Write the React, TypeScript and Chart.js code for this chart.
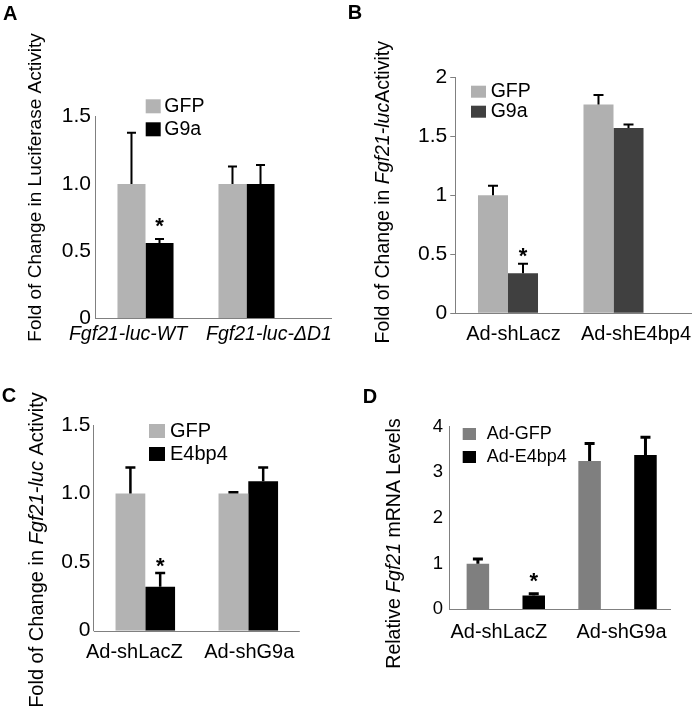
import React, { useEffect, useRef } from 'react';
import { Chart, registerables } from 'chart.js';

Chart.register(...registerables);

const FONT = '"Liberation Sans", Arial, Helvetica, sans-serif';
const AXIS = '#808080';

// ---------- Panel A data ----------
const aCategories = ['Fgf21-luc-WT', 'Fgf21-luc-ΔD1'];
const aYTicks = ['0', '0.5', '1.0', '1.5'];
const aGfp = [1.0, 1.0];
const aGfpErr = [0.38, 0.13];
const aGfpStar = [false, false];
const aG9a = [0.56, 1.0];
const aG9aErr = [0.03, 0.14];
const aG9aStar = [true, false];

// ---------- Panel B data ----------
const bCategories = ['Ad-shLacz', 'Ad-shE4bp4'];
const bYTicks = ['0', '0.5', '1', '1.5', '2'];
const bGfp = [1.0, 1.77];
const bGfpErr = [0.08, 0.08];
const bGfpStar = [false, false];
const bG9a = [0.34, 1.57];
const bG9aErr = [0.08, 0.03];
const bG9aStar = [true, false];

// ---------- Panel C data ----------
const cCategories = ['Ad-shLacZ', 'Ad-shG9a'];
const cYTicks = ['0', '0.5', '1.0', '1.5'];
const cGfp = [1.0, 1.0];
const cGfpErr = [0.19, 0.01];
const cGfpStar = [false, false];
const cE4bp4 = [0.32, 1.09];
const cE4bp4Err = [0.1, 0.1];
const cE4bp4Star = [true, false];

// ---------- Panel D data ----------
const dCategories = ['Ad-shLacZ', 'Ad-shG9a'];
const dYTicks = ['0', '1', '2', '3', '4'];
const dGfp = [1.0, 3.25];
const dGfpErr = [0.1, 0.38];
const dGfpStar = [false, false];
const dE4bp4 = [0.3, 3.38];
const dE4bp4Err = [0.04, 0.39];
const dE4bp4Star = [true, false];

type Seg = { text: string; italic?: boolean };
type Series = { label: string; color: string; values: number[]; errors: number[]; stars: boolean[] };
type PanelCfg = {
  letter: string;
  letterPos: [number, number];
  canvas: { left: number; top: number; width: number; height: number };
  area: { left: number; right: number; top: number; bottom: number };
  axisExtend: number;
  categories: string[];
  series: Series[];
  yMax: number;
  yStep: number;
  yLabels: string[];
  tickFont: number;
  tickPad: number;
  tickLen: number;
  catPct: number;
  barPct: number;
  xFont: number;
  xItalic: boolean;
  xBaseline: number;
  labelNudge: number[];
  title: Seg[];
  titleFont: number;
  titlePos: [number, number];
  legend: { boxX: number; boxW: number; boxH: number; y0: number; rowH: number; textX: number; font: number };
  err: { width: number; cap: number };
  starGap: number;
};

const panels: PanelCfg[] = [
  {
    letter: 'A',
    letterPos: [3, 20],
    canvas: { left: 0, top: 0, width: 346, height: 360 },
    area: { left: 95, right: 297, top: 116.7, bottom: 318.3 },
    axisExtend: 35,
    categories: aCategories,
    series: [
      { label: 'GFP', color: '#b3b3b3', values: aGfp, errors: aGfpErr, stars: aGfpStar },
      { label: 'G9a', color: '#000000', values: aG9a, errors: aG9aErr, stars: aG9aStar },
    ],
    yMax: 1.5,
    yStep: 0.5,
    yLabels: aYTicks,
    tickFont: 21,
    tickPad: 4,
    tickLen: 0,
    catPct: 0.555,
    barPct: 1,
    xFont: 19.5,
    xItalic: true,
    xBaseline: 340,
    labelNudge: [-17.5, 22.5],
    title: [{ text: 'Fold of Change in Luciferase Activity' }],
    titleFont: 19,
    titlePos: [40.8, 187.5],
    legend: { boxX: 145.7, boxW: 15, boxH: 14, y0: 106.3, rowH: 23, textX: 164.3, font: 19.5 },
    err: { width: 2, cap: 9 },
    starGap: 17,
  },
  {
    letter: 'B',
    letterPos: [347.7, 18.5],
    canvas: { left: 346, top: 0, width: 347, height: 360 },
    area: { left: 455.25, right: 666.25, top: 77.3, bottom: 313.3 },
    axisExtend: 25.75,
    categories: bCategories,
    series: [
      { label: 'GFP', color: '#b0b0b0', values: bGfp, errors: bGfpErr, stars: bGfpStar },
      { label: 'G9a', color: '#404040', values: bG9a, errors: bG9aErr, stars: bG9aStar },
    ],
    yMax: 2,
    yStep: 0.5,
    yLabels: bYTicks,
    tickFont: 21,
    tickPad: 3,
    tickLen: 5,
    catPct: 0.569,
    barPct: 1,
    xFont: 20,
    xItalic: false,
    xBaseline: 340,
    labelNudge: [5.5, 22.5],
    title: [{ text: 'Fold of Change in ' }, { text: 'Fgf21-luc', italic: true }, { text: 'Activity' }],
    titleFont: 19.5,
    titlePos: [388.9, 192.3],
    legend: { boxX: 471, boxW: 15, boxH: 12, y0: 91.7, rowH: 20, textX: 490.7, font: 19.5 },
    err: { width: 2, cap: 10 },
    starGap: 11.5,
  },
  {
    letter: 'C',
    letterPos: [1.7, 401.7],
    canvas: { left: 0, top: 360, width: 346, height: 354 },
    area: { left: 93.8, right: 299.8, top: 425, bottom: 630.7 },
    axisExtend: 0,
    categories: cCategories,
    series: [
      { label: 'GFP', color: '#b3b3b3', values: cGfp, errors: cGfpErr, stars: cGfpStar },
      { label: 'E4bp4', color: '#000000', values: cE4bp4, errors: cE4bp4Err, stars: cE4bp4Star },
    ],
    yMax: 1.5,
    yStep: 0.5,
    yLabels: cYTicks,
    tickFont: 21,
    tickPad: 3.3,
    tickLen: 0,
    catPct: 0.578,
    barPct: 1,
    xFont: 20,
    xItalic: false,
    xBaseline: 658.3,
    labelNudge: [-11, 1],
    title: [{ text: 'Fold of Change in ' }, { text: 'Fgf21-luc', italic: true }, { text: ' Activity' }],
    titleFont: 20,
    titlePos: [42.8, 550],
    legend: { boxX: 149, boxW: 16, boxH: 14, y0: 431, rowH: 23, textX: 170, font: 20 },
    err: { width: 2.5, cap: 10 },
    starGap: 11,
  },
  {
    letter: 'D',
    letterPos: [362.7, 403.3],
    canvas: { left: 346, top: 360, width: 347, height: 354 },
    area: { left: 449.95, right: 673.4, top: 426.7, bottom: 609.3 },
    axisExtend: -2.4,
    categories: dCategories,
    series: [
      { label: 'Ad-GFP', color: '#7f7f7f', values: dGfp, errors: dGfpErr, stars: dGfpStar },
      { label: 'Ad-E4bp4', color: '#000000', values: dE4bp4, errors: dE4bp4Err, stars: dE4bp4Star },
    ],
    yMax: 4,
    yStep: 1,
    yLabels: dYTicks,
    tickFont: 18.5,
    tickPad: 7,
    tickLen: 0,
    catPct: 1,
    barPct: 0.403,
    xFont: 20,
    xItalic: false,
    xBaseline: 638.3,
    labelNudge: [-7, 4],
    title: [{ text: 'Relative ' }, { text: 'Fgf21', italic: true }, { text: ' mRNA Levels' }],
    titleFont: 19.5,
    titlePos: [399.8, 543.5],
    legend: { boxX: 462.7, boxW: 13.3, boxH: 12, y0: 434, rowH: 23, textX: 486.7, font: 18 },
    err: { width: 3, cap: 10 },
    starGap: 16.5,
  },
];

function makeDecor(cfg: PanelCfg) {
  const ox = cfg.canvas.left;
  const oy = cfg.canvas.top;
  return {
    id: 'decor' + cfg.letter,
    afterDatasetsDraw(chart: any) {
      const ctx = chart.ctx as CanvasRenderingContext2D;
      const y = chart.scales.y;
      cfg.series.forEach((s, di) => {
        const meta = chart.getDatasetMeta(di);
        meta.data.forEach((bar: any, i: number) => {
          const v = s.values[i];
          const e = s.errors[i];
          const yTop = y.getPixelForValue(v + e);
          const yBar = y.getPixelForValue(v);
          ctx.save();
          ctx.strokeStyle = '#000';
          ctx.lineWidth = cfg.err.width;
          ctx.beginPath();
          ctx.moveTo(bar.x, yBar);
          ctx.lineTo(bar.x, yTop);
          ctx.moveTo(bar.x - cfg.err.cap / 2, yTop);
          ctx.lineTo(bar.x + cfg.err.cap / 2, yTop);
          ctx.stroke();
          if (s.stars[i]) {
            ctx.font = `bold 22px ${FONT}`;
            ctx.fillStyle = '#000';
            ctx.textAlign = 'center';
            ctx.textBaseline = 'alphabetic';
            const m = ctx.measureText('*');
            const cy = yTop - cfg.starGap;
            const base = cy + (m.actualBoundingBoxAscent - m.actualBoundingBoxDescent) / 2;
            ctx.fillText('*', bar.x, base);
          }
          ctx.restore();
        });
      });
    },
    afterDraw(chart: any) {
      const ctx = chart.ctx as CanvasRenderingContext2D;
      const area = chart.chartArea;
      const xs = chart.scales.x;
      ctx.save();
      // x axis line
      ctx.strokeStyle = AXIS;
      ctx.lineWidth = 1;
      ctx.beginPath();
      ctx.moveTo(area.left, Math.round(area.bottom) + 0.5);
      ctx.lineTo(area.right + cfg.axisExtend, Math.round(area.bottom) + 0.5);
      ctx.stroke();

      // x labels
      ctx.fillStyle = '#000';
      ctx.font = `${cfg.xItalic ? 'italic ' : ''}${cfg.xFont}px ${FONT}`;
      ctx.textAlign = 'center';
      ctx.textBaseline = 'alphabetic';
      cfg.categories.forEach((c, i) => {
        const px = xs.getPixelForTick(i) + cfg.labelNudge[i];
        ctx.fillText(c, px, cfg.xBaseline - oy);
      });

      // y title (rotated, mixed styles)
      ctx.save();
      ctx.translate(cfg.titlePos[0] - ox, cfg.titlePos[1] - oy);
      ctx.rotate(-Math.PI / 2);
      ctx.textAlign = 'left';
      ctx.textBaseline = 'alphabetic';
      const fontFor = (s: Seg) => `${s.italic ? 'italic ' : ''}${cfg.titleFont}px ${FONT}`;
      let total = 0;
      const widths = cfg.title.map((s) => {
        ctx.font = fontFor(s);
        const w = ctx.measureText(s.text).width;
        total += w;
        return w;
      });
      let tx = -total / 2;
      cfg.title.forEach((s, i) => {
        ctx.font = fontFor(s);
        ctx.fillText(s.text, tx, 0);
        tx += widths[i];
      });
      ctx.restore();

      // legend
      const L = cfg.legend;
      cfg.series.forEach((s, k) => {
        const cy = L.y0 + k * L.rowH - oy;
        ctx.fillStyle = s.color;
        ctx.fillRect(L.boxX - ox, cy - L.boxH / 2, L.boxW, L.boxH);
        ctx.fillStyle = '#000';
        ctx.font = `${L.font}px ${FONT}`;
        ctx.textAlign = 'left';
        ctx.textBaseline = 'middle';
        ctx.fillText(s.label, L.textX - ox, cy);
      });

      // panel letter
      ctx.font = `bold 20px ${FONT}`;
      ctx.textAlign = 'left';
      ctx.textBaseline = 'alphabetic';
      ctx.fillStyle = '#000';
      ctx.fillText(cfg.letter, cfg.letterPos[0] - ox, cfg.letterPos[1] - oy);
      ctx.restore();
    },
  };
}

function Panel({ cfg }: { cfg: PanelCfg }) {
  const ref = useRef<HTMLCanvasElement>(null);
  useEffect(() => {
    const c = cfg.canvas;
    const a = cfg.area;
    const chart = new Chart(ref.current as HTMLCanvasElement, {
      type: 'bar',
      data: {
        labels: cfg.categories,
        datasets: cfg.series.map((s) => ({
          label: s.label,
          data: s.values,
          backgroundColor: s.color,
          borderWidth: 0,
          categoryPercentage: cfg.catPct,
          barPercentage: cfg.barPct,
        })),
      },
      options: {
        responsive: false,
        animation: false,
        devicePixelRatio: 1,
        layout: {
          padding: { left: 0, top: a.top - c.top, right: c.left + c.width - a.right, bottom: 0 },
        },
        plugins: { legend: { display: false }, tooltip: { enabled: false } },
        scales: {
          x: {
            type: 'category',
            offset: true,
            grid: { display: false },
            border: { display: false },
            ticks: { display: false },
            afterFit: (s: any) => {
              s.height = c.top + c.height - a.bottom;
            },
          },
          y: {
            min: 0,
            max: cfg.yMax,
            ticks: {
              stepSize: cfg.yStep,
              color: '#000',
              padding: cfg.tickPad,
              font: { family: FONT, size: cfg.tickFont },
              callback: (_v: any, i: number) => cfg.yLabels[i],
            },
            grid: {
              display: cfg.tickLen > 0,
              drawOnChartArea: false,
              drawTicks: cfg.tickLen > 0,
              tickLength: cfg.tickLen,
              color: AXIS,
            },
            border: { display: true, color: AXIS, width: 1 },
            afterFit: (s: any) => {
              s.width = a.left - c.left;
            },
          },
        },
      } as any,
      plugins: [makeDecor(cfg)],
    });
    return () => chart.destroy();
  }, [cfg]);
  const c = cfg.canvas;
  return (
    <canvas
      ref={ref}
      width={c.width}
      height={c.height}
      style={{ position: 'absolute', left: c.left, top: c.top, width: c.width, height: c.height }}
    />
  );
}

export default function App() {
  return (
    <div style={{ position: 'absolute', left: 0, top: 0, width: 693, height: 714, background: '#fff' }}>
      {panels.map((p) => (
        <Panel key={p.letter} cfg={p} />
      ))}
    </div>
  );
}
